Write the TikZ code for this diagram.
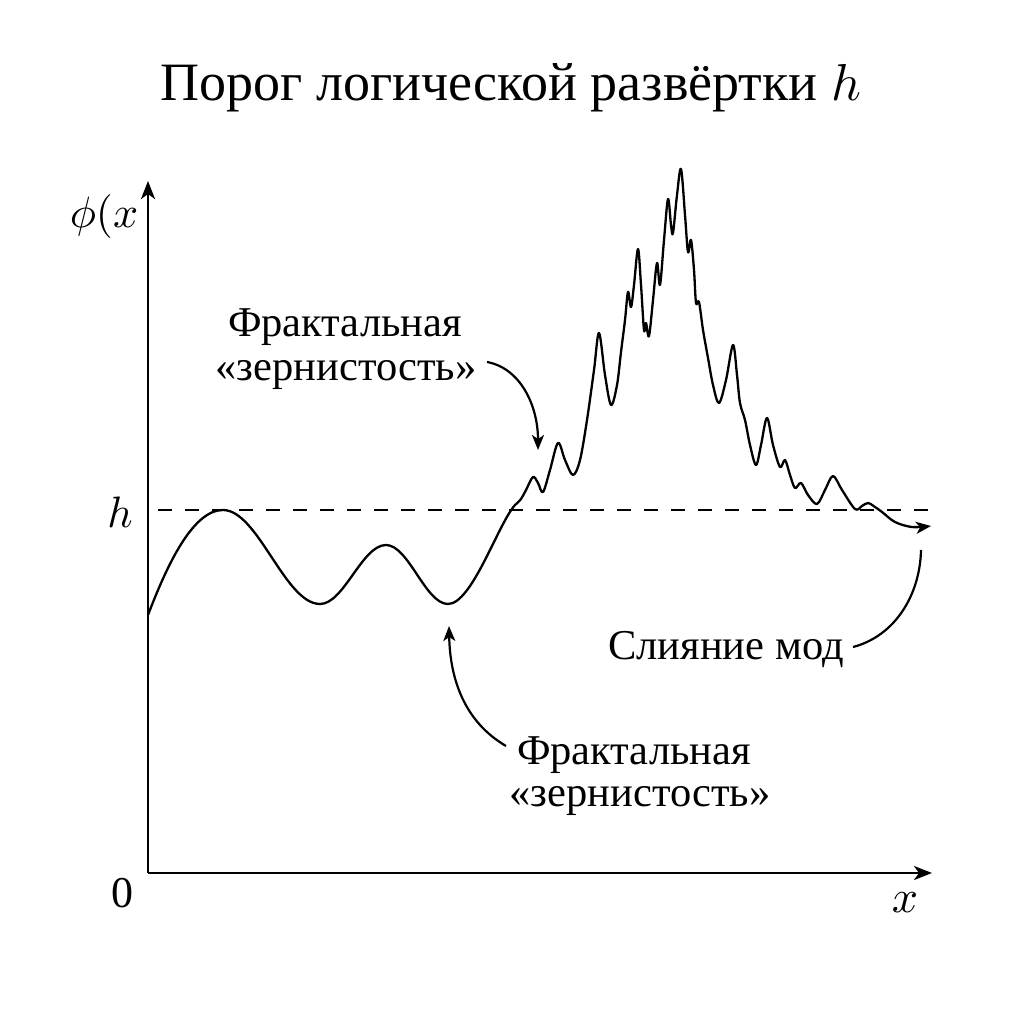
\documentclass[tikz,border=0pt]{standalone}
\usepackage{fontspec}
\setmainfont{Liberation Serif}
\usepackage{graphicx}
\usetikzlibrary{arrows.meta}
\newcommand{\scmath}[2]{\scalebox{#1}{\normalsize$#2$}}
\tikzset{
  axis/.style={line width=2.7pt,-{Stealth[length=18pt,width=14pt,inset=5pt]}},
  curve/.style={line width=2.3pt,line join=round},
  thresh/.style={line width=2.8pt,dash pattern=on 14pt off 13pt},
  note/.style={line width=2.2pt,-{Stealth[length=15pt,width=12pt,inset=4pt]}},
  plain/.style={line width=2.2pt},
  lbl/.style={font=\fontsize{42.5}{46}\selectfont,inner sep=0pt},
  axl/.style={font=\fontsize{44}{48}\selectfont,inner sep=0pt},
  ttl/.style={font=\fontsize{54}{58}\selectfont,inner sep=0pt},
}
\begin{document}
\begin{tikzpicture}[x=1pt,y=-1pt]
\useasboundingbox (0,0) rectangle (1024,1024);
% title
\node[ttl] (title) at (511,88) {Порог логической развёртки \scmath{5.2}{h}};
% axes
\coordinate (O) at (148,873);
\coordinate (ytop) at (148,181);
\coordinate (xend) at (932,873);
\draw[axis] (O) -- (ytop);
\draw[axis] (O) -- (xend);
\node[axl] (phi) at (104,217) {\scmath{4.4}{\phi(x}};
\node[axl] (zero) at (122,893) {0};
\node[axl] (xl) at (905,903) {\scmath{4.6}{x}};
\node[axl] (hl) at (120,512) {\scmath{4.4}{h}};
% threshold
\coordinate (h0) at (158,510);
\coordinate (h1) at (930,510);
\draw[thresh] (h0) -- (h1);
% curve
\draw[curve,-{Stealth[length=15pt,width=12pt,inset=4pt]}]
 (148,615) .. controls (166,568) and (192,510) .. (223,510)
 .. controls (258,510) and (285,604) .. (320,604)
 .. controls (344,604) and (362,545) .. (386,545)
 .. controls (408.6,545) and (425.4,604) .. (448,604)
 .. controls (472,604) and (498,524) .. (515,505)
 -- plot[smooth,tension=0.55] coordinates {
(515,505) (521,499) (526,490) (533,477) (538,483) (543,492) (550,470) (558,443) (565,460)
(573,475) (580,460) (587,420) (594,370) (599,333) (605,375) (611,405) (617,385) (621,352)
(625,320) (628,292) (631,307) (634,285) (638,249) (641,285) (644,330) (646,323) (649,336)
(653,300) (657,263) (660,285) (664,240) (668,199) (671,225) (673,233) (677,195) (681,169)
(685,215) (688,252) (691,240) (694,270) (696,303) (699,302) (703,330) (708,358) (713,385)
(719,403) (726,380) (733,345) (737,375) (740,403) (745,420) (750,445) (756,465) (761,445)
(767,418) (773,445) (780,467) (785,460) (790,475) (795,488) (801,483) (808,495) (817,504)
(825,490) (833,476) (842,490) (855,509) (862,506) (868,503) (875,507) (882,512) (895,522)
(912,527) (931,526)};
% annotations
\node[lbl] (up1) at (345,327) {Фрактальная};
\node[lbl] (up2) at (346,375) {«зернистость»};
\coordinate (upS) at (487,362);
\coordinate (upE) at (538,450);
\draw[note] (upS) .. controls (520,368) and (538,405) .. (upE);
\node[lbl] (lo1) at (634,755) {Фрактальная};
\node[lbl] (lo2) at (640,801) {«зернистость»};
\coordinate (loS) at (506,746);
\coordinate (loE) at (449,626);
\draw[note] (loS) .. controls (465,722) and (450,680) .. (loE);
\node[lbl] (merge) at (726,650) {Слияние мод};
\coordinate (mS) at (853,647);
\coordinate (mE) at (921,550);
\draw[plain] (mS) .. controls (895,636) and (920,595) .. (mE);
\end{tikzpicture}
\end{document}
